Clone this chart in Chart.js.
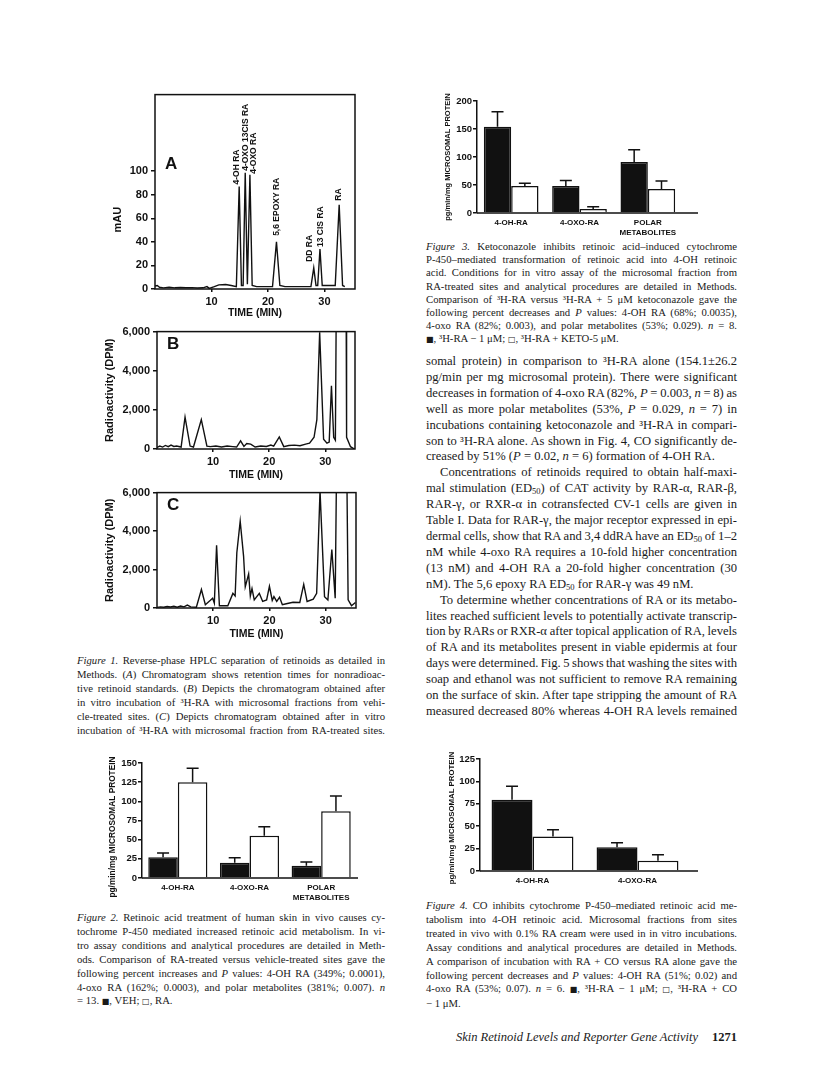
<!DOCTYPE html>
<html>
<head>
<meta charset="utf-8">
<script src="https://cdn.jsdelivr.net/npm/chart.js@4.4.1/dist/chart.umd.min.js"></script>
<style>
html, body { margin: 0; padding: 0; background: #fff; }
body { width: 816px; height: 1075px; position: relative; overflow: hidden;
       font-family: "Liberation Serif", "Times New Roman", serif; color: #1a1a1a; }
canvas { position: absolute; }
.blk { position: absolute; }
.ln { white-space: nowrap; text-align: left; }
.cap { font-size: 10.7px; line-height: 13.9px; }
.txt { font-size: 12.6px; line-height: 15.9px; }
.ind { padding-left: 14px; }
sub { font-size: 0.68em; vertical-align: -0.25em; line-height: 0; }
.sq { font-family: "DejaVu Sans", sans-serif; font-size: 0.75em; }
.foot { font-size: 12.5px; line-height: 16px; text-align: right; }
</style>
</head>
<body>

<canvas id="figA" width="262" height="236" style="left:100px;top:85px"></canvas>
<canvas id="figB" width="262" height="161" style="left:100px;top:322px"></canvas>
<canvas id="figC" width="263" height="159" style="left:100px;top:483px"></canvas>
<canvas id="fig2" width="261" height="152" style="left:104px;top:750px"></canvas>
<canvas id="fig3" width="260" height="149" style="left:440px;top:88px"></canvas>
<canvas id="fig4" width="256" height="147" style="left:444px;top:746px"></canvas>

<div class="blk cap" style="left:77px;top:654px;width:308px">
<div class="ln"><i>Figure 1.</i> Reverse-phase HPLC separation of retinoids as detailed in</div>
<div class="ln">Methods. (<i>A</i>) Chromatogram shows retention times for nonradioac-</div>
<div class="ln">tive retinoid standards. (<i>B</i>) Depicts the chromatogram obtained after</div>
<div class="ln">in vitro incubation of ³H-RA with microsomal fractions from vehi-</div>
<div class="ln">cle-treated sites. (<i>C</i>) Depicts chromatogram obtained after in vitro</div>
<div class="ln">incubation of ³H-RA with microsomal fraction from RA-treated sites.</div>
</div>

<div class="blk cap" style="left:77px;top:911px;width:308px">
<div class="ln"><i>Figure 2.</i> Retinoic acid treatment of human skin in vivo causes cy-</div>
<div class="ln">tochrome P-450 mediated increased retinoic acid metabolism. In vi-</div>
<div class="ln">tro assay conditions and analytical procedures are detailed in Meth-</div>
<div class="ln">ods. Comparison of RA-treated versus vehicle-treated sites gave the</div>
<div class="ln">following percent increases and <i>P</i> values: 4-OH RA (349%; 0.0001),</div>
<div class="ln">4-oxo RA (162%; 0.0003), and polar metabolites (381%; 0.007). <i>n</i></div>
<div class="ln last">= 13. <span class="sq">■</span>, VEH; <span class="sq">□</span>, RA.</div>
</div>

<div class="blk cap" style="left:426px;top:240px;width:311px;line-height:13.2px">
<div class="ln"><i>Figure 3.</i> Ketoconazole inhibits retinoic acid–induced cytochrome</div>
<div class="ln">P-450–mediated transformation of retinoic acid into 4-OH retinoic</div>
<div class="ln">acid. Conditions for in vitro assay of the microsomal fraction from</div>
<div class="ln">RA-treated sites and analytical procedures are detailed in Methods.</div>
<div class="ln">Comparison of ³H-RA versus ³H-RA + 5 μM ketoconazole gave the</div>
<div class="ln">following percent decreases and <i>P</i> values: 4-OH RA (68%; 0.0035),</div>
<div class="ln">4-oxo RA (82%; 0.003), and polar metabolites (53%; 0.029). <i>n</i> = 8.</div>
<div class="ln last"><span class="sq">■</span>, ³H-RA − 1 μM; <span class="sq">□</span>, ³H-RA + KETO-5 μM.</div>
</div>

<div class="blk txt" style="left:426px;top:354px;width:311px">
<div class="ln">somal protein) in comparison to ³H-RA alone (154.1±26.2</div>
<div class="ln">pg/min per mg microsomal protein). There were significant</div>
<div class="ln">decreases in formation of 4-oxo RA (82%, <i>P</i> = 0.003, <i>n</i> = 8) as</div>
<div class="ln">well as more polar metabolites (53%, <i>P</i> = 0.029, <i>n</i> = 7) in</div>
<div class="ln">incubations containing ketoconazole and ³H-RA in compari-</div>
<div class="ln">son to ³H-RA alone. As shown in Fig. 4, CO significantly de-</div>
<div class="ln last">creased by 51% (<i>P</i> = 0.02, <i>n</i> = 6) formation of 4-OH RA.</div>
<div class="ln ind">Concentrations of retinoids required to obtain half-maxi-</div>
<div class="ln">mal stimulation (ED<sub>50</sub>) of CAT activity by RAR-α, RAR-β,</div>
<div class="ln">RAR-γ, or RXR-α in cotransfected CV-1 cells are given in</div>
<div class="ln">Table I. Data for RAR-γ, the major receptor expressed in epi-</div>
<div class="ln">dermal cells, show that RA and 3,4 ddRA have an ED<sub>50</sub> of 1–2</div>
<div class="ln">nM while 4-oxo RA requires a 10-fold higher concentration</div>
<div class="ln">(13 nM) and 4-OH RA a 20-fold higher concentration (30</div>
<div class="ln last">nM). The 5,6 epoxy RA ED<sub>50</sub> for RAR-γ was 49 nM.</div>
<div class="ln ind">To determine whether concentrations of RA or its metabo-</div>
<div class="ln">lites reached sufficient levels to potentially activate transcrip-</div>
<div class="ln">tion by RARs or RXR-α after topical application of RA, levels</div>
<div class="ln">of RA and its metabolites present in viable epidermis at four</div>
<div class="ln">days were determined. Fig. 5 shows that washing the sites with</div>
<div class="ln">soap and ethanol was not sufficient to remove RA remaining</div>
<div class="ln">on the surface of skin. After tape stripping the amount of RA</div>
<div class="ln">measured decreased 80% whereas 4-OH RA levels remained</div>
</div>

<div class="blk cap" style="left:426px;top:899px;width:311px">
<div class="ln"><i>Figure 4.</i> CO inhibits cytochrome P-450–mediated retinoic acid me-</div>
<div class="ln">tabolism into 4-OH retinoic acid. Microsomal fractions from sites</div>
<div class="ln">treated in vivo with 0.1% RA cream were used in in vitro incubations.</div>
<div class="ln">Assay conditions and analytical procedures are detailed in Methods.</div>
<div class="ln">A comparison of incubation with RA + CO versus RA alone gave the</div>
<div class="ln">following percent decreases and <i>P</i> values: 4-OH RA (51%; 0.02) and</div>
<div class="ln">4-oxo RA (53%; 0.07). <i>n</i> = 6. <span class="sq">■</span>, ³H-RA − 1 μM; <span class="sq">□</span>, ³H-RA + CO</div>
<div class="ln last">− 1 μM.</div>
</div>

<div class="blk foot" style="left:426px;top:1029px;width:311px">
<i>Skin Retinoid Levels and Reporter Gene Activity</i><b style="margin-left:14px">1271</b>
</div>

<script>
// Figure 1A: UV trace of the retinoid standards (mAU vs minutes)
const timeA = [0, 0.4, 0.8, 1.5, 2.5, 3.5, 4.5, 5.5, 6.5, 7.5, 8.5, 9.2, 9.6, 10.5, 11.3, 12.5, 13.5, 14.4, 14.9, 15.3,
  15.6, 15.97, 16.35, 16.45, 16.8, 17.2, 18, 20.8, 21.5, 22.1, 23, 27.6, 28.1, 28.5, 28.8, 29.2, 29.6, 31.9, 32.6, 33.2, 33.6];
const mauA = [2.5, 3, 1.5, 1, 1.5, 1, 1.3, 1, 1.2, 0.8, 1, 2, 0.5, 2, 3.5, 3.8, 3, 2, 87, 3,
  3, 98.6, 4, 4, 97, 3, 2, 2, 40, 3, 2, 2, 18, 3, 3, 34, 3, 3, 71.5, 3, 2];

// peak names written above the trace in panel A
const peakNames = ['4-OH RA', '4-OXO 13CIS RA', '4-OXO RA', '5,6 EPOXY RA', 'DD RA', '13 CIS RA', 'RA'];
const peakTimes = [14.9, 15.97, 16.8, 21.5, 28.1, 29.2, 32.6];
const peakHeights = [87, 98.6, 97, 40, 18, 34, 71.5];

// Figure 1B: radioactivity, vehicle-treated sites (DPM); 9000 = off scale
const timeB = [0, 0.5, 1, 1.5, 2, 2.5, 3, 3.5, 4.3, 5.0, 5.9, 6.5, 7.9, 8.9, 9.5, 10.5, 11.5, 12.5, 13.5, 14.2,
  14.9, 15.5, 16.0, 16.7, 17.5, 18.5, 19.5, 20.3, 20.8, 21.8, 22.6, 23.5, 24.5, 25.5, 26.5, 27.2, 28.0, 28.5, 29.0, 29.7,
  30.3, 30.7, 31.1, 31.5, 31.8, 32.0, 33.7, 33.8, 34.5, 35.2];
const dpmB = [80, 150, 100, 180, 120, 200, 130, 150, 100, 1630, 150, 100, 1500, 150, 120, 150, 100, 150, 120, 100,
  420, 130, 280, 250, 100, 150, 130, 200, 150, 620, 120, 180, 200, 170, 250, 300, 600, 1500, 5970, 500,
  300, 350, 3230, 600, 450, 9000, 9000, 600, 120, 0];

// Figure 1C: radioactivity, RA-treated sites (DPM)
const timeC = [0, 0.6, 1.2, 1.8, 2.4, 3.0, 3.6, 4.2, 4.8, 5.4, 6.0, 7.0, 7.9, 8.6, 9.5, 9.9, 10.2, 10.6, 11.1, 12.6,
  13.5, 13.9, 14.2, 14.8, 15.4, 15.7, 16.3, 16.6, 16.9, 17.3, 18.2, 18.8, 19.5, 20.0, 20.5, 20.8, 21.3, 21.8, 22.3, 23.0,
  24.2, 25.4, 26.1, 26.7, 27.8, 28.4, 29.0, 29.8, 30.4, 31.1, 31.7, 32.0, 33.7, 34.0, 34.6, 35.3];
const dpmC = [30, 60, 40, 80, 50, 90, 40, 100, 60, 150, 60, 40, 960, 170, 400, 510, 250, 3260, 120, 120,
  760, 625, 2870, 4510, 2700, 1100, 1770, 625, 1010, 420, 760, 340, 420, 1130, 390, 590, 340, 560, 170, 220,
  300, 290, 1230, 340, 460, 760, 6100, 590, 420, 3040, 510, 9000, 9000, 420, 120, 290];

// tick labels of the chromatograms
const timeTicks = [10, 20, 30];
const mauTicks = [0, 20, 40, 60, 80, 100];
const dpmTicks = [0, 2000, 4000, 6000];

// bar figures (pg/min/mg microsomal protein), errors are the upper SEM
const metLabels = ['4-OH-RA', '4-OXO-RA', ['POLAR', 'METABOLITES']];
const fig2Veh = [27, 20, 16];
const fig2VehErr = [5.5, 6.5, 5];
const fig2Ra = [125, 55, 87];
const fig2RaErr = [18, 12, 20];

const fig3Ra = [154, 48, 91];
const fig3RaErr = [27, 10, 22];
const fig3Keto = [48, 7, 43];
const fig3KetoErr = [5, 4, 14];

const fig4Labels = ['4-OH-RA', '4-OXO-RA'];
const fig4Ra = [79.5, 26.5];
const fig4RaErr = [15, 5];
const fig4Co = [38.5, 11.5];
const fig4CoErr = [7.5, 6.5];

const ink = '#111';
const sans = '"Liberation Sans", Arial, sans-serif';

Chart.defaults.font.family = sans;
Chart.defaults.font.weight = 'bold';
Chart.defaults.color = ink;
Chart.defaults.animation = false;
Chart.defaults.responsive = false;
Chart.defaults.plugins.legend.display = false;
Chart.defaults.plugins.tooltip.enabled = false;

// box round the plot area
const framePlugin = {
  id: 'frame',
  afterDatasetsDraw(chart) {
    const { ctx, chartArea: a } = chart;
    ctx.save();
    ctx.strokeStyle = ink;
    ctx.lineWidth = 1.5;
    ctx.strokeRect(a.left, a.top, a.right - a.left, a.bottom - a.top);
    ctx.restore();
  }
};

// free text placed relative to the plot area (panel letters, axis names)
const notesPlugin = {
  id: 'notes',
  afterDraw(chart, args, opts) {
    const { ctx, chartArea: a } = chart;
    (opts.items || []).forEach(it => {
      ctx.save();
      ctx.font = it.font;
      ctx.fillStyle = ink;
      ctx.textAlign = it.align || 'left';
      ctx.textBaseline = 'middle';
      ctx.translate(a.left + it.dx, a.top + it.dy);
      if (it.rot) ctx.rotate(it.rot * Math.PI / 180);
      ctx.fillText(it.text, 0, 0);
      ctx.restore();
    });
  }
};

// vertical peak names, anchored on each peak through the scales
const peakLabelPlugin = {
  id: 'peakLabels',
  afterDatasetsDraw(chart, args, opts) {
    if (!opts.names) return;
    const { ctx, scales: { x, y } } = chart;
    ctx.save();
    ctx.font = 'bold 8.5px ' + sans;
    ctx.fillStyle = ink;
    ctx.textAlign = 'left';
    ctx.textBaseline = 'middle';
    opts.names.forEach((name, i) => {
      const px = x.getPixelForValue(opts.times[i]) + opts.dx[i];
      const py = y.getPixelForValue(opts.heights[i]) - opts.gap[i];
      ctx.save();
      ctx.translate(px, py);
      ctx.rotate(-Math.PI / 2);
      ctx.fillText(name, 0, 0);
      ctx.restore();
    });
    ctx.restore();
  }
};

// upper error bars with a cap
const errorPlugin = {
  id: 'errorBars',
  afterDatasetsDraw(chart) {
    const { ctx, scales: { y } } = chart;
    ctx.save();
    ctx.strokeStyle = ink;
    ctx.lineWidth = 1.5;
    chart.data.datasets.forEach((ds, di) => {
      chart.getDatasetMeta(di).data.forEach((bar, i) => {
        const top = y.getPixelForValue(ds.data[i] + ds.errors[i]);
        ctx.beginPath();
        ctx.moveTo(bar.x, bar.y);
        ctx.lineTo(bar.x, top);
        ctx.moveTo(bar.x - 6, top);
        ctx.lineTo(bar.x + 6, top);
        ctx.stroke();
      });
    });
    ctx.restore();
  }
};

// x axis line that runs past the last group
const baselinePlugin = {
  id: 'baseline',
  afterDatasetsDraw(chart, args, opts) {
    const { ctx, chartArea: a } = chart;
    ctx.save();
    ctx.strokeStyle = ink;
    ctx.lineWidth = 1.5;
    ctx.beginPath();
    ctx.moveTo(a.left, a.bottom);
    ctx.lineTo(a.right + (opts.extend || 0), a.bottom);
    ctx.stroke();
    ctx.restore();
  }
};

function trace(id, xs, ys, cfg) {
  return new Chart(document.getElementById(id), {
    type: 'line',
    data: {
      datasets: [{
        data: xs.map((t, i) => ({ x: t, y: ys[i] })),
        borderColor: ink,
        borderWidth: 1.4,
        pointRadius: 0,
        tension: 0
      }]
    },
    options: {
      devicePixelRatio: 1,
      layout: { padding: cfg.pad },
      scales: {
        x: {
          type: 'linear', min: 0, max: cfg.xMax,
          afterBuildTicks: s => { s.ticks = timeTicks.map(v => ({ value: v })); },
          afterFit: s => { s.height = cfg.xHeight; },
          ticks: { font: { size: 11 }, padding: 3, maxRotation: 0, autoSkip: false },
          grid: { drawOnChartArea: false, tickLength: 3, color: ink, lineWidth: 1.5 },
          border: { display: false },
          title: { display: true, text: 'TIME (MIN)', font: { size: 10.5 }, padding: 0 }
        },
        y: {
          min: 0, max: cfg.yMax,
          afterBuildTicks: s => { s.ticks = cfg.yTicks.map(v => ({ value: v })); },
          afterFit: s => { s.width = cfg.yWidth; },
          ticks: { font: { size: 11 }, padding: 3, autoSkip: false,
                   callback: v => v.toLocaleString('en-US') },
          grid: { drawOnChartArea: false, tickLength: 4, color: ink, lineWidth: 1.5 },
          border: { display: false },
          title: cfg.yTitle
            ? { display: true, text: cfg.yTitle, font: { size: 11 }, padding: { top: 3.5, bottom: 0 } }
            : { display: false }
        }
      },
      plugins: {
        notes: { items: cfg.notes },
        peakLabels: cfg.peaks || {}
      }
    },
    plugins: [framePlugin, notesPlugin, peakLabelPlugin]
  });
}

function bars(id, labels, sets, cfg) {
  return new Chart(document.getElementById(id), {
    type: 'bar',
    data: {
      labels: labels,
      datasets: sets.map(s => ({
        data: s.values,
        errors: s.errors,
        backgroundColor: s.fill,
        borderColor: ink,
        borderWidth: 1.5,
        categoryPercentage: cfg.catPct,
        barPercentage: 1
      }))
    },
    options: {
      devicePixelRatio: 1,
      layout: { padding: cfg.pad },
      scales: {
        x: {
          afterFit: s => { s.height = cfg.xHeight; },
          ticks: { font: { size: 8 }, padding: 5, maxRotation: 0, autoSkip: false },
          grid: { display: false, drawTicks: false },
          border: { display: false }
        },
        y: {
          min: 0, max: cfg.yMax,
          afterFit: s => { s.width = cfg.yWidth; },
          ticks: { stepSize: cfg.yStep, font: { size: 9.5 }, padding: 1 },
          grid: { drawOnChartArea: false, tickLength: 4, color: ink, lineWidth: 1.5 },
          border: { display: true, color: ink, width: 1.5 }
        }
      },
      plugins: {
        notes: { items: [{ text: 'pg/min/mg MICROSOMAL PROTEIN', dx: cfg.titleDx, dy: cfg.titleDy,
                           rot: -90, align: 'center', font: 'bold ' + cfg.titleSize + 'px ' + sans }] },
        baseline: { extend: cfg.extend }
      }
    },
    plugins: [errorPlugin, baselinePlugin, notesPlugin]
  });
}

trace('figA', timeA, mauA, {
  pad: { left: 0, top: 8, right: 7, bottom: 2 },
  xMax: 35.4, xHeight: 30, yMax: 165, yTicks: mauTicks, yWidth: 55,
  notes: [
    { text: 'A', dx: 10, dy: 70, font: 'bold 17px ' + sans },
    { text: 'mAU', dx: -37, dy: 125, rot: -90, align: 'center', font: 'bold 11px ' + sans }
  ],
  peaks: { names: peakNames, times: peakTimes, heights: peakHeights,
           dx: [-2.5, 0, 4, 0, -4, 1, -1], gap: [2, 2, 1, 6, 6, 2, 4] }
});

trace('figB', timeB, dpmB, {
  pad: { left: 0, top: 8, right: 7, bottom: 2 },
  xMax: 35.3, xHeight: 32, yMax: 6000, yTicks: dpmTicks, yWidth: 57,
  yTitle: 'Radioactivity (DPM)',
  notes: [{ text: 'B', dx: 10, dy: 13, font: 'bold 17px ' + sans }]
});

trace('figC', timeC, dpmC, {
  pad: { left: 0, top: 7, right: 7, bottom: 2 },
  xMax: 35.4, xHeight: 32, yMax: 6000, yTicks: dpmTicks, yWidth: 57,
  yTitle: 'Radioactivity (DPM)',
  notes: [{ text: 'C', dx: 10, dy: 13, font: 'bold 17px ' + sans }]
});

bars('fig2', metLabels, [
  { values: fig2Veh, errors: fig2VehErr, fill: ink },
  { values: fig2Ra, errors: fig2RaErr, fill: '#fff' }
], { pad: { left: 4, top: 13, right: 8, bottom: 2 }, yWidth: 34, xHeight: 22, yMax: 150, yStep: 25,
     catPct: 0.825, extend: 1, titleDx: -29, titleDy: 64, titleSize: 8.3 });

bars('fig3', metLabels, [
  { values: fig3Ra, errors: fig3RaErr, fill: ink },
  { values: fig3Keto, errors: fig3KetoErr, fill: '#fff' }
], { pad: { left: 4, top: 13, right: 18, bottom: 2 }, yWidth: 33, xHeight: 22, yMax: 200, yStep: 50,
     catPct: 0.80, extend: 16, titleDx: -29, titleDy: 56, titleSize: 7.5 });

bars('fig4', fig4Labels, [
  { values: fig4Ra, errors: fig4RaErr, fill: ink },
  { values: fig4Co, errors: fig4CoErr, fill: '#fff' }
], { pad: { left: 4, top: 13, right: 10, bottom: 2 }, yWidth: 32, xHeight: 20, yMax: 125, yStep: 25,
     catPct: 0.78, extend: 8, titleDx: -28, titleDy: 59, titleSize: 7.8 });

// justify each printed line to its column width
document.querySelectorAll('.ln').forEach(el => {
  el.innerHTML = '<span>' + el.innerHTML + '</span>';
  const sp = el.firstChild;
  const pad = parseFloat(getComputedStyle(el).paddingLeft) || 0;
  const avail = el.clientWidth - pad;
  const w = sp.getBoundingClientRect().width;
  const gaps = (sp.textContent.match(/ /g) || []).length;
  if (gaps && (!el.classList.contains('last') || w > avail)) {
    sp.style.wordSpacing = ((avail - w) / gaps) + 'px';
  }
});
</script>
</body>
</html>
